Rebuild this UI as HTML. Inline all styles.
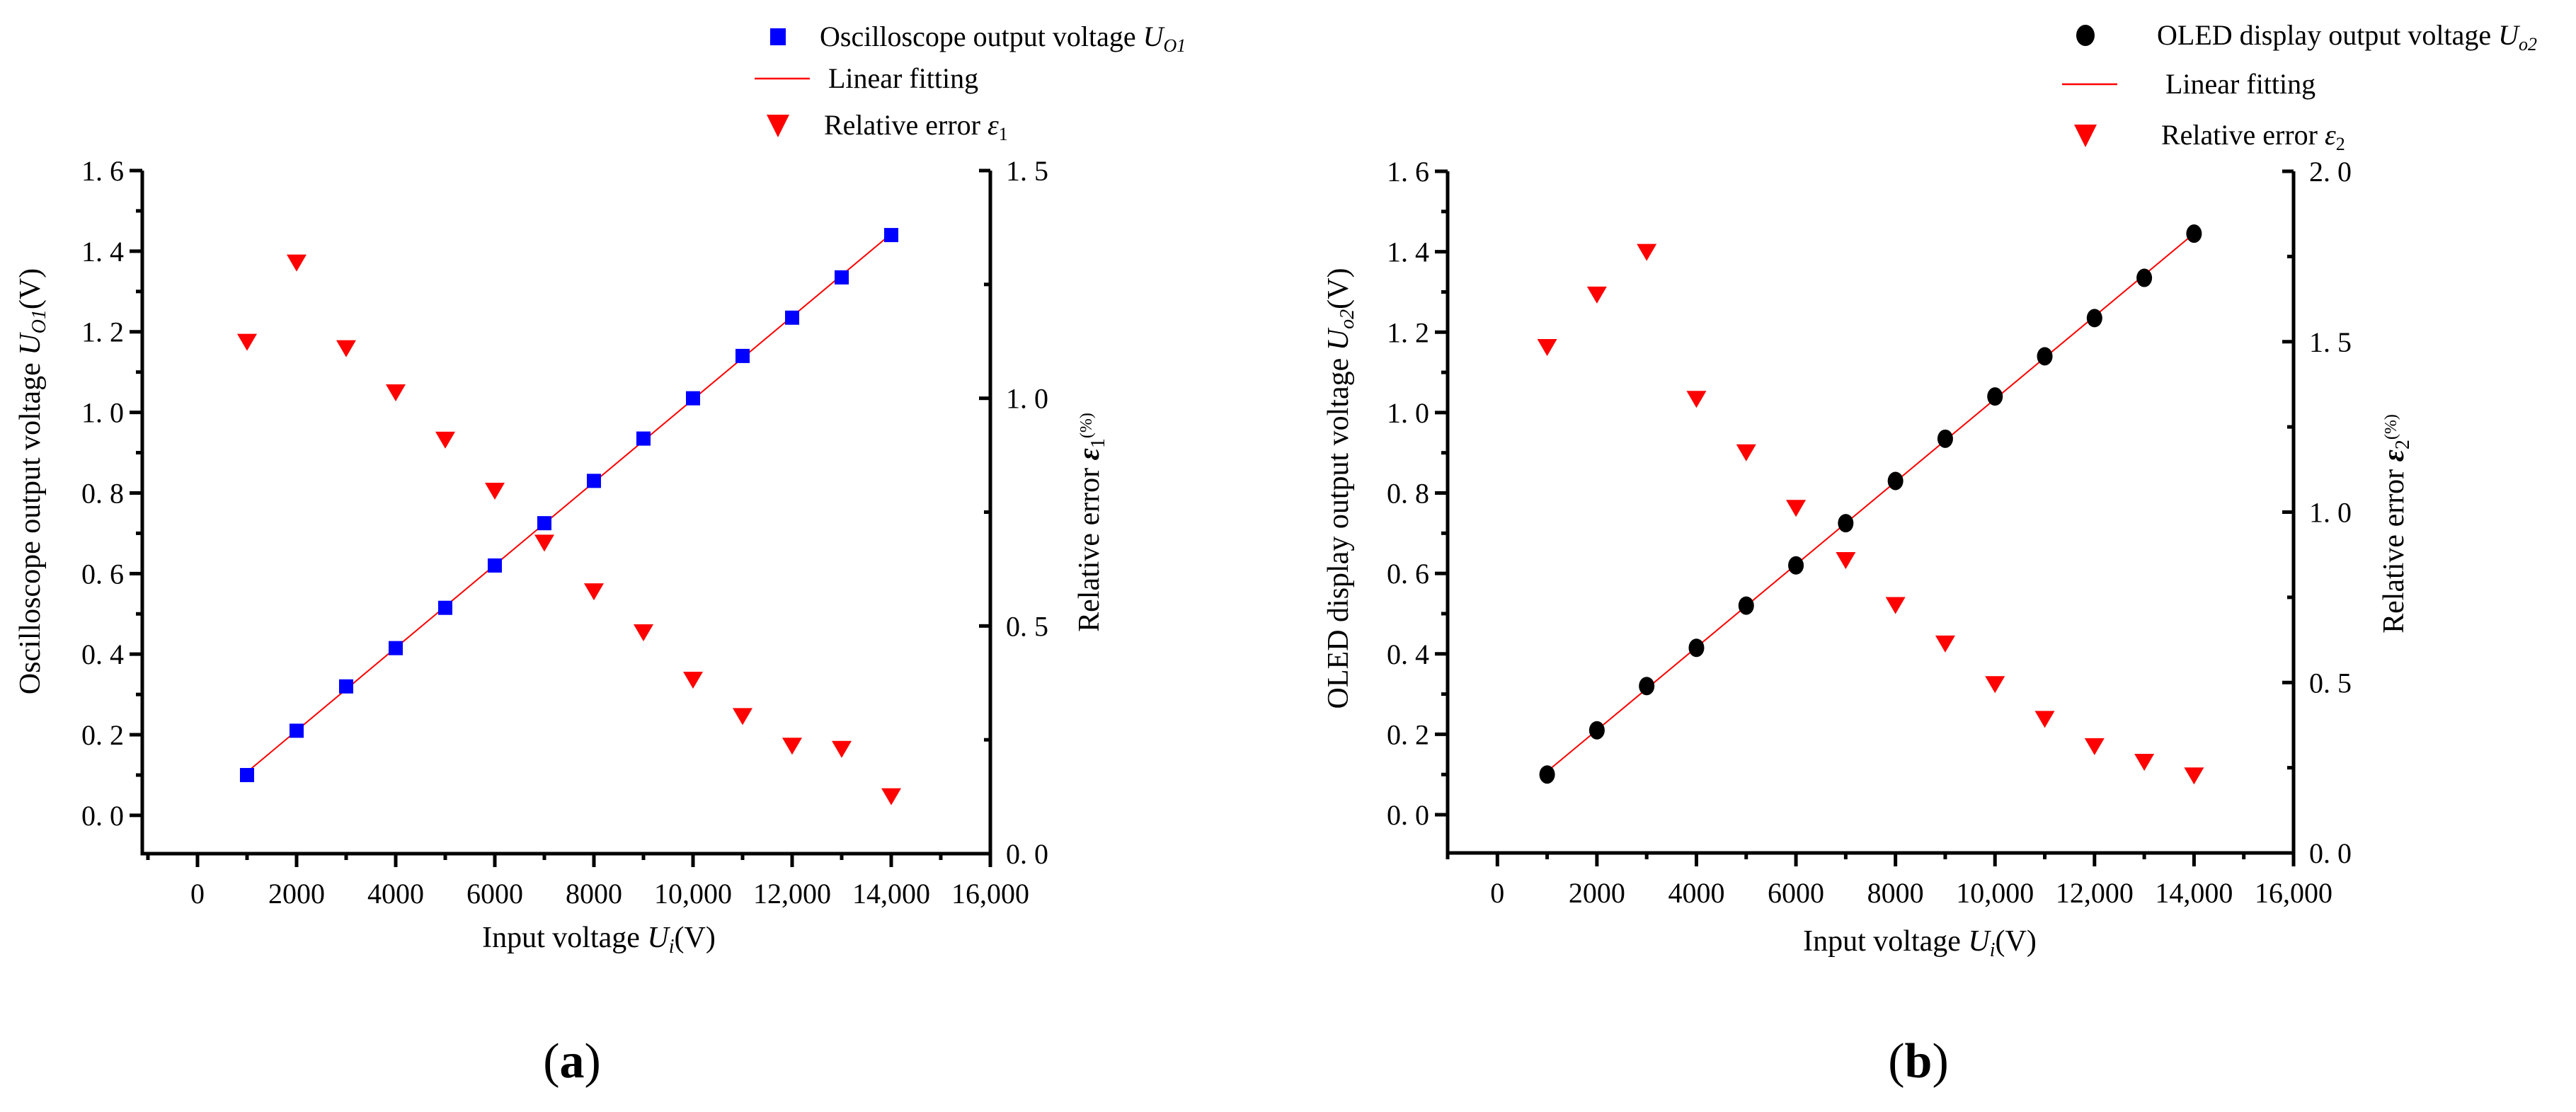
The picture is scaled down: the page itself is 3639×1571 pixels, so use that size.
<!DOCTYPE html>
<html><head><meta charset="utf-8">
<style>
html,body{margin:0;padding:0;background:#fff;}
svg{display:block;font-family:"Liberation Serif",serif;}
</style></head>
<body>
<svg id="fig" width="3639" height="1571" viewBox="0 0 3639 1571" xmlns="http://www.w3.org/2000/svg"></svg>
<script>
const xValues = [1000,2000,3000,4000,5000,6000,7000,8000,9000,10000,11000,12000,13000,14000];
const voltA = [0.10,0.21,0.32,0.415,0.515,0.62,0.725,0.83,0.935,1.035,1.14,1.235,1.335,1.44];
const errA = [1.126,1.30,1.112,1.015,0.911,0.799,0.685,0.578,0.488,0.384,0.304,0.239,0.232,0.128];
const voltB = [0.10,0.21,0.32,0.415,0.52,0.62,0.725,0.83,0.935,1.04,1.14,1.235,1.335,1.445];
const errB = [1.487,1.641,1.766,1.335,1.178,1.015,0.862,0.730,0.617,0.498,0.396,0.316,0.270,0.230];
const xTickValues = [0,2000,4000,6000,8000,10000,12000,14000,16000];
const xTickLabels = ["0","2000","4000","6000","8000","10,000","12,000","14,000","16,000"];
const yTickValues = [0,0.2,0.4,0.6,0.8,1.0,1.2,1.4,1.6];
const yTickLabels = ["0. 0","0. 2","0. 4","0. 6","0. 8","1. 0","1. 2","1. 4","1. 6"];
const rTickValuesA = [0,0.5,1.0,1.5];
const rTickLabelsA = ["0. 0","0. 5","1. 0","1. 5"];
const rTickValuesB = [0,0.5,1.0,1.5,2.0];
const rTickLabelsB = ["0. 0","0. 5","1. 0","1. 5","2. 0"];

const NS="http://www.w3.org/2000/svg";
const svg=document.getElementById('fig');
function mk(tag,attrs,parent){const e=document.createElementNS(NS,tag);for(const k in attrs)e.setAttribute(k,attrs[k]);(parent||svg).appendChild(e);return e;}

function panel(p){
  const g=mk('g',{});
  
  
  const X=v=>p.x0+(v-p.xmin)/(p.xmax-p.xmin)*(p.x1-p.x0);
  const Y=v=>p.yb-(v-p.ymin)/(p.ymax-p.ymin)*(p.yb-p.yt);
  const YR=v=>p.yb-(v-0)/(p.rmax)*(p.yb-p.rt);
  // axes
  const ax=mk('path',{d:`M${p.x0},${p.yt} V${p.yb} H${p.x1} V${p.rt}`,fill:'none',stroke:'#000','stroke-width':5},g);
  
  
  // x ticks
  for(let v=-1000;v<=16000;v+=1000){
    const major=v%2000===0;
    const t=mk('line',{x1:X(v),x2:X(v),y1:p.yb,y2:p.yb+(major?19:9),stroke:'#000','stroke-width':5},g);
    
    
  }
  xTickValues.forEach((v,i)=>{
    const t=mk('text',{x:X(v),y:p.yb+70,'font-size':40,'text-anchor':'middle'},g);
    t.textContent=xTickLabels[i];
    
    
  });
  // left y ticks
  for(let k=0;k<=16;k++){
    const v=k*0.1;const major=k%2===0;
    const t=mk('line',{x1:p.x0,x2:p.x0-(major?18:9),y1:Y(v),y2:Y(v),stroke:'#000','stroke-width':5},g);
    
    
  }
  yTickValues.forEach((v,i)=>{
    const t=mk('text',{x:p.x0-26,y:Y(v)+14,'font-size':40,'text-anchor':'end'},g);
    t.textContent=yTickLabels[i];
    
    
  });
  // right ticks
  for(let v=0;v<=p.rmax+1e-9;v+=p.rstep/2){
    const major=Math.abs(v/p.rstep-Math.round(v/p.rstep))<1e-6;
    const t=mk('line',{x1:p.x1,x2:p.x1-(major?16:9),y1:YR(v),y2:YR(v),stroke:'#000','stroke-width':5},g);
    
    
  }
  p.rVals.forEach((v,i)=>{
    const t=mk('text',{x:p.x1+22,y:YR(v)+14,'font-size':40},g);
    t.textContent=p.rLabels[i];
    
    
  });
  // linear fit
  const n=xValues.length;let sx=0,sy=0,sxx=0,sxy=0;
  for(let i=0;i<n;i++){sx+=xValues[i];sy+=p.volt[i];sxx+=xValues[i]*xValues[i];sxy+=xValues[i]*p.volt[i];}
  const b=(n*sxy-sx*sy)/(n*sxx-sx*sx),a=(sy-b*sx)/n;
  const xa=xValues[0],xb=xValues[n-1];
  const fl=mk('line',{x1:X(xa),y1:Y(a+b*xa),x2:X(xb),y2:Y(a+b*xb),stroke:'#ff0000','stroke-width':2},g);
  
  
  // voltage markers
  xValues.forEach((xv,i)=>{
    const cx=X(xv),cy=Y(p.volt[i]);let m;
    if(p.marker==='square') m=mk('rect',{x:cx-10,y:cy-10,width:20,height:20,fill:'#0000ff'},g);
    else m=mk('ellipse',{cx:cx,cy:cy,rx:11,ry:13,fill:'#000'},g);
    
    
  });
  // error triangles
  xValues.forEach((xv,i)=>{
    const cx=X(xv),cy=YR(p.err[i]);
    const m=mk('polygon',{points:`${cx-14},${cy-10} ${cx+14},${cy-10} ${cx},${cy+14}`,fill:'#ff0000'},g);
    
    
  });
  // axis titles
  const xt=mk('text',{x:p.xtx,y:p.xty,'font-size':42,'text-anchor':'middle'},g);
  xt.innerHTML='Input voltage <tspan font-style="italic">U</tspan><tspan font-style="italic" font-size="28" dy="8">i</tspan><tspan dy="-8">(V)</tspan>';
  
  
  const yt=mk('text',{x:0,y:0,'font-size':42,'text-anchor':'middle',transform:`translate(${p.ytx},${p.yty}) rotate(-90)`},g);
  yt.innerHTML=p.yTitle;
  
  
  const rt=mk('text',{x:0,y:0,'font-size':42,'text-anchor':'middle',transform:`translate(${p.rtx},${p.rty}) rotate(-90)`},g);
  rt.innerHTML=p.rTitle;
  
  
  // legend
  const lg=mk('g',{},g);
  
  
  let lm;
  if(p.marker==='square') lm=mk('rect',{x:p.lmx-11,y:p.ly1-12,width:22,height:24,fill:'#0000ff'},lg);
  else lm=mk('ellipse',{cx:p.lmx,cy:p.ly1,rx:13,ry:15,fill:'#000'},lg);
  
  
  const l1=mk('text',{x:p.ltx,y:p.ly1+13,'font-size':40},lg);
  l1.innerHTML=p.leg1;
  
  
  const ll=mk('line',{x1:p.lmx-33,x2:p.lmx+45,y1:p.ly2,y2:p.ly2,stroke:'#ff0000','stroke-width':2.5},lg);
  
  
  const l2=mk('text',{x:p.ltx+12,y:p.ly2+13,'font-size':40},lg);
  l2.textContent='Linear fitting';
  
  
  const lt=mk('polygon',{points:`${p.lmx-16},${p.ly3-14} ${p.lmx+16},${p.ly3-14} ${p.lmx},${p.ly3+18}`,fill:'#ff0000'},lg);
  
  
  const l3=mk('text',{x:p.ltx+6,y:p.ly3+14,'font-size':40},lg);
  l3.innerHTML=p.leg3;
  
  
  const cap=mk('text',{x:p.capx,y:1522,'font-size':70,'text-anchor':'middle'},g);
  cap.innerHTML='(<tspan font-weight="bold">'+p.id+'</tspan>)';
  
  
}

panel({id:'a',x0:201,x1:1399,xmin:-1114,xmax:16000,yt:241,yb:1206,ymin:-0.095,ymax:1.6,rt:241,rmax:1.5,rstep:0.5,
  rVals:rTickValuesA,rLabels:rTickLabelsA,volt:voltA,err:errA,marker:'square',
  xtx:846,xty:1338,ytx:56,yty:680,rtx:1552,rty:738,
  yTitle:'Oscilloscope output voltage <tspan font-style="italic">U</tspan><tspan font-style="italic" font-size="28" dy="8">O1</tspan><tspan dy="-8">(V)</tspan>',
  rTitle:'Relative error <tspan font-weight="bold" font-style="italic">ε</tspan><tspan font-size="28" dy="8">1</tspan><tspan font-size="24" dy="-18">(%)</tspan>',
  lmx:1099,ly1:52,ly2:111,ly3:176,ltx:1158,
  leg1:'Oscilloscope output voltage <tspan font-style="italic">U</tspan><tspan font-style="italic" font-size="26" dy="8">O1</tspan>',
  leg3:'Relative error <tspan font-style="italic">ε</tspan><tspan font-size="26" dy="8">1</tspan>',capx:808});

panel({id:'b',x0:2045,x1:3240,xmin:-1000,xmax:16000,yt:242,yb:1205,ymin:-0.095,ymax:1.6,rt:242,rmax:2.0,rstep:0.5,
  rVals:rTickValuesB,rLabels:rTickLabelsB,volt:voltB,err:errB,marker:'circle',
  xtx:2712,xty:1343,ytx:1904,yty:690,rtx:3395,rty:740,
  yTitle:'OLED display output voltage <tspan font-style="italic">U</tspan><tspan font-style="italic" font-size="28" dy="8">o2</tspan><tspan dy="-8">(V)</tspan>',
  rTitle:'Relative error <tspan font-weight="bold" font-style="italic">ε</tspan><tspan font-size="28" dy="8">2</tspan><tspan font-size="24" dy="-18">(%)</tspan>',
  lmx:2946,ly1:50,ly2:119,ly3:190,ltx:3047,
  leg1:'OLED display output voltage <tspan font-style="italic">U</tspan><tspan font-style="italic" font-size="26" dy="8">o2</tspan>',
  leg3:'Relative error <tspan font-style="italic">ε</tspan><tspan font-size="26" dy="8">2</tspan>',capx:2710});
</script>
</body></html>
